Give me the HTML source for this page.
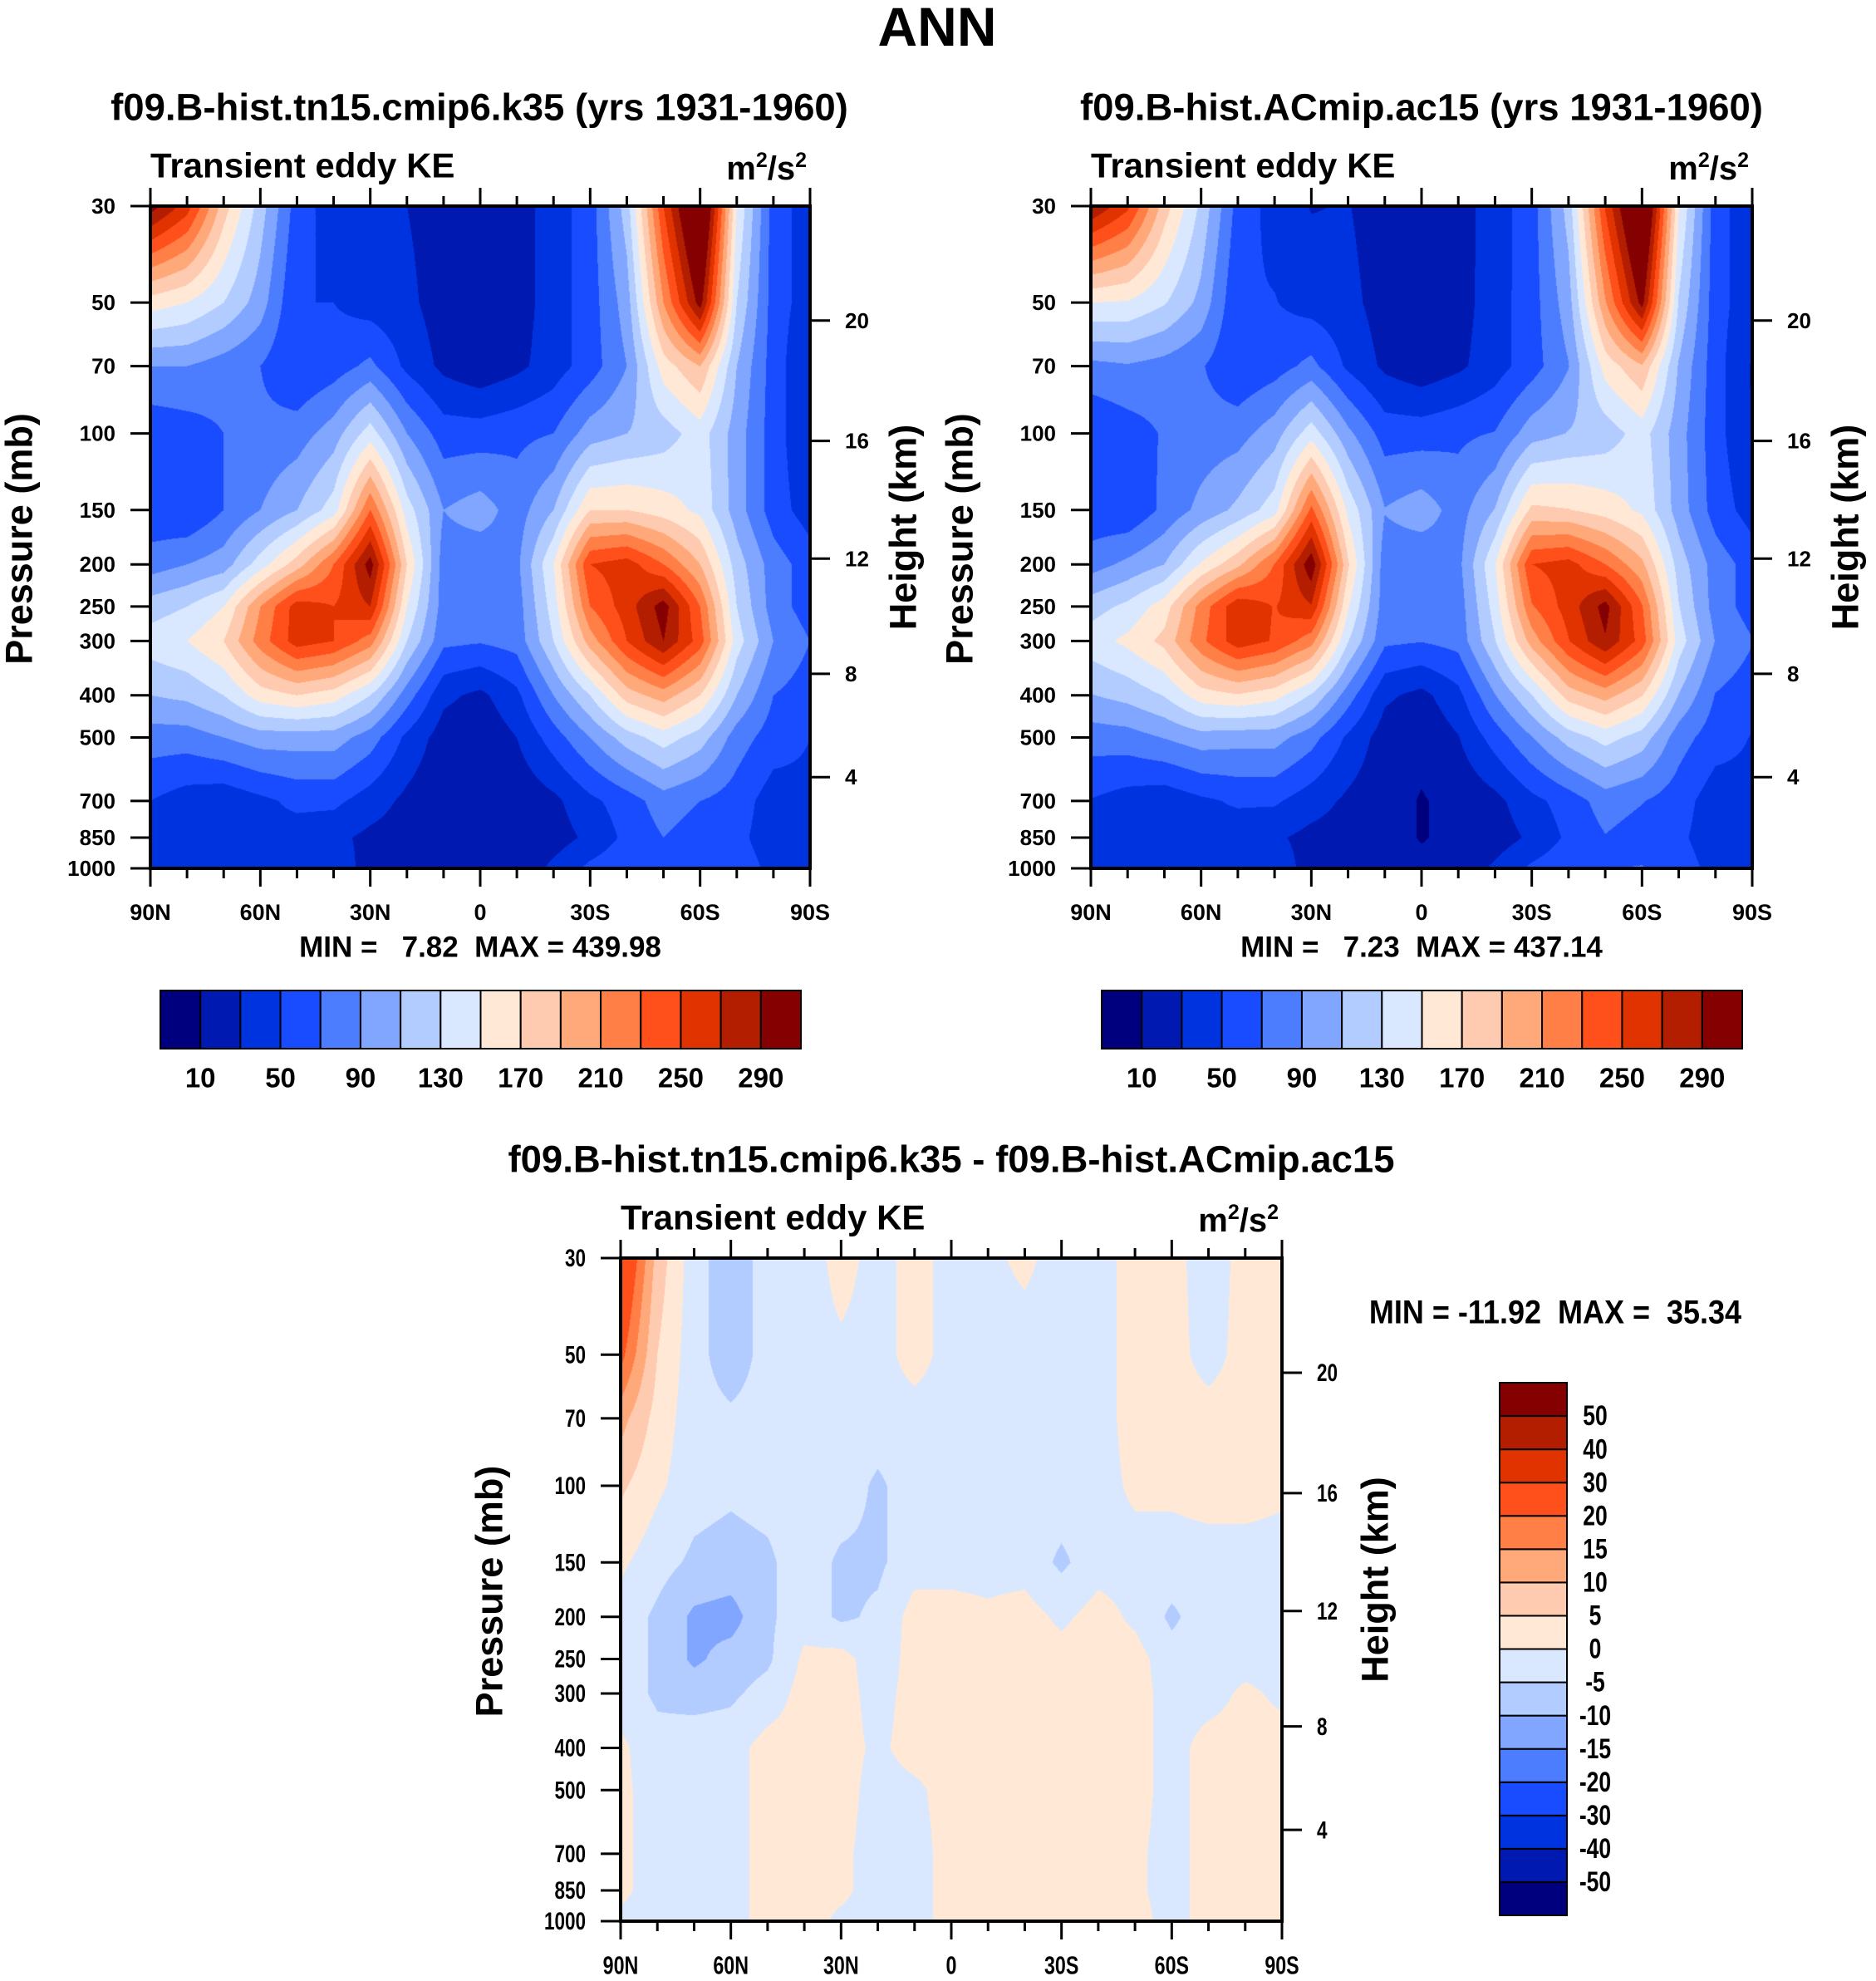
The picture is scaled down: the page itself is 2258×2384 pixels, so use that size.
<!DOCTYPE html>
<html><head><meta charset="utf-8">
<style>
html,body{margin:0;padding:0;background:#fff;}
#wrap{position:relative;width:2258px;height:2384px;overflow:hidden;background:#fff;}
canvas{position:absolute;}
svg{position:absolute;left:0;top:0;}
text{font-family:"Liberation Sans",sans-serif;font-weight:bold;fill:#000;white-space:pre;}
</style></head>
<body>
<div id="wrap">
<canvas id="c1" width="794" height="797" style="left:181px;top:248px"></canvas>
<canvas id="c2" width="796" height="797" style="left:1313px;top:248px"></canvas>
<canvas id="c3" width="796" height="798" style="left:747px;top:1514px"></canvas>
<svg id="svg" width="2258" height="2384" xmlns="http://www.w3.org/2000/svg"></svg>
</div>
<script>
const pressures=[30,50,70,100,150,200,250,300,400,500,700,850,1000];
const latLabels=["90N","60N","30N","0","30S","60S","90S"];
const heightKm=[20,16,12,8,4];
const heightP=[55,104,194,357,617];
const levelsKE=[10,30,50,70,90,110,130,150,170,190,210,230,250,270,290];
const levelsKELabels=["10","50","90","130","170","210","250","290"];
const levelsDiff=[-50,-40,-30,-20,-15,-10,-5,0,5,10,15,20,30,40,50];
const colors=["#00007f","#0019b0","#0033e0","#1a4cff","#4d7dff","#80a6ff","#b3ccff","#d9e8ff","#ffe8d6","#ffcbb0","#ffa97a","#ff7f47","#ff4f1a","#e03300","#b31d00","#850000"];
// rows: pressure levels; cols: 90N..90S every 10 deg
const case1=[
[300,260,180,120,60,40,30,30,20,15,20,40,60,120,250,350,150,60,40],
[160,150,130,100,50,50,40,35,20,15,20,40,60,100,210,300,130,60,40],
[90,90,80,70,50,60,75,45,25,15,25,40,60,90,160,190,110,60,30],
[55,60,70,75,80,100,140,90,60,60,65,70,100,110,120,140,100,60,30],
[55,50,70,90,110,140,230,140,90,100,80,110,170,170,160,145,100,60,40],
[80,90,100,140,180,230,300,170,80,75,85,150,250,260,230,190,120,80,60],
[120,130,150,210,260,250,270,150,80,75,80,140,230,260,300,230,130,80,60],
[140,150,170,220,260,250,220,130,75,72,78,130,200,250,290,240,140,90,70],
[110,115,130,160,170,160,130,80,35,25,45,90,130,180,200,170,110,70,60],
[80,80,90,100,100,100,80,45,20,15,30,60,90,120,140,120,80,60,50],
[50,40,35,45,55,55,40,25,15,10,15,25,45,60,80,70,60,40,45],
[40,35,35,45,40,35,25,20,15,10,15,20,35,55,70,60,55,40,40],
[40,40,35,45,45,45,20,15,15,15,15,35,55,65,70,70,60,45,50]];
const case2=[
[290,255,180,125,62,42,29,31,19,16,21,40,61,118,252,350,152,58,38],
[150,148,132,104,52,51,41,36,21,16,21,41,61,101,208,298,128,58,38],
[84,88,82,72,52,61,76,46,26,16,26,41,61,89,158,188,108,58,28],
[50,60,72,78,82,101,141,95,61,61,66,71,101,111,119,139,99,58,29],
[55,52,75,96,115,141,235,145,91,101,81,111,175,171,161,146,101,61,41],
[81,95,110,152,185,231,305,173,79,74,84,149,250,258,230,195,121,81,61],
[121,135,160,218,265,249,268,152,79,74,79,139,228,259,298,232,131,81,61],
[141,155,176,225,262,248,218,131,74,71,77,129,199,249,288,241,141,89,71],
[109,117,131,161,168,158,128,80,34,24,44,89,129,179,198,171,109,69,59],
[79,81,91,101,98,98,78,46,20,14,29,59,89,119,138,121,79,59,49],
[49,41,36,46,53,53,39,26,16,9,14,24,44,59,79,71,59,39,44],
[39,36,36,46,38,33,24,21,16,9,14,19,34,54,69,61,54,39,39],
[41,40,35,45,43,43,21,16,16,14,14,34,54,64,69,71,59,44,49]];
const diff=[
[30,8,-3,-8,-3,-3,2,-2,2,-2,-1,1,-2,-2,2,2,-3,2,2],
[22,5,-3,-8,-3,-2,-1,-2,2,-2,-2,-2,-2,-2,2,2,-2,2,2],
[12,3,-3,-4,-3,-2,-2,-2,-2,-2,-2,-2,-2,-2,2,2,2,2,2],
[6,1,-3,-4,-3,-2,-2,-6,-2,-2,-2,-2,-2,-2,1,1,2,2,1],
[1,-3,-6,-7,-6,-2,-6,-6,-2,-2,-2,-2,-6,-2,-2,-2,-2,-2,-2],
[-2,-6,-11,-12,-6,-2,-6,-4,2,2,1,2,-1,2,-1,-6,-2,-2,-2],
[-2,-6,-11,-8,-6,1,2,-3,2,2,2,2,2,2,2,-3,-2,-2,-2],
[-2,-6,-7,-6,-3,2,2,-2,2,2,2,2,2,2,2,-2,-2,1,-1],
[1,-3,-2,-2,2,2,2,-1,2,2,2,2,2,2,2,-2,2,2,2],
[1,-2,-2,-2,2,2,2,-2,-1,2,2,2,2,2,2,-2,2,2,2],
[1,-2,-2,-2,2,2,1,-2,-2,2,2,2,2,2,1,-2,2,2,2],
[1,-2,-2,-2,2,2,1,-2,-2,2,2,2,2,2,1,-2,2,2,2],
[-1,-2,-2,-2,2,2,-1,-2,-2,2,2,2,2,2,2,-2,2,2,2]];

const L30=Math.log10(30),L1000=Math.log10(1000);
function yFrac(p){return (Math.log10(p)-L30)/(L1000-L30);}
function colorIdx(v,lv){let i=0;while(i<lv.length&&v>=lv[i])i++;return i;}
const rgb=colors.map(c=>[parseInt(c.substr(1,2),16),parseInt(c.substr(3,2),16),parseInt(c.substr(5,2),16)]);
function fill(id,data,lv){
  const cv=document.getElementById(id),ctx=cv.getContext('2d');
  const w=cv.width,h=cv.height,img=ctx.createImageData(w,h);
  const lp=pressures.map(p=>Math.log10(p));
  for(let py=0;py<h;py++){
    const l=L30+(py+0.5)/h*(L1000-L30);
    let j=0;while(j<lp.length-2&&l>lp[j+1])j++;
    const t=Math.min(1,Math.max(0,(l-lp[j])/(lp[j+1]-lp[j])));
    for(let px=0;px<w;px++){
      const f=(px+0.5)/w*18;let i=Math.min(17,Math.floor(f));const s=f-i;
      const v=(1-t)*((1-s)*data[j][i]+s*data[j][i+1])+t*((1-s)*data[j+1][i]+s*data[j+1][i+1]);
      const c=rgb[colorIdx(v,lv)],k=(py*w+px)*4;
      img.data[k]=c[0];img.data[k+1]=c[1];img.data[k+2]=c[2];img.data[k+3]=255;
    }
  }
  ctx.putImageData(img,0,0);
}
fill('c1',case1,levelsKE);fill('c2',case2,levelsKE);fill('c3',diff,levelsDiff);

const NS="http://www.w3.org/2000/svg",svg=document.getElementById('svg');
function el(tag,attrs,txt){const e=document.createElementNS(NS,tag);for(const k in attrs)e.setAttribute(k,attrs[k]);if(txt!==undefined)e.textContent=txt;svg.appendChild(e);return e;}
function txt(x,y,s,size,anchor,extra){const e=el('text',Object.assign({x:x,y:y,'font-size':size,'text-anchor':anchor||'middle','dominant-baseline':'central'},extra||{}),s);return e;}
function sx(x,k){return `translate(${x},0) scale(${k},1) translate(${-x},0)`;}

let t=txt(1128,32,"ANN",66);



function panel(x0,y0,w,h,title,tx,narrow,key){
  const tfs=narrow?30:26, k=0.75;
  let e=txt(tx,y0-119,title,45.5);
  
  
  e=txt(x0,y0-49,"Transient eddy KE",42,'start');
  
  
  e=el('text',{x:x0+w-4,y:y0-32,'font-size':40,'text-anchor':'end'});
  e.innerHTML='m<tspan dy="-15" font-size="25">2</tspan><tspan dy="15">/s</tspan><tspan dy="-15" font-size="25">2</tspan>';
  
  
  e=el('rect',{x:x0,y:y0,width:w,height:h,fill:'none',stroke:'#000','stroke-width':4});
  
  
  for(let d=0;d<=18;d++){
    const x=x0+d/18*w,maj=d%3===0,len=maj?22:12;
    el('line',{x1:x,y1:y0+h,x2:x,y2:y0+h+len,stroke:'#000','stroke-width':3});
    el('line',{x1:x,y1:y0,x2:x,y2:y0-len,stroke:'#000','stroke-width':3});
  }
  latLabels.forEach((s,i)=>{
    const x=x0+i/6*w;
    const e=txt(x,y0+h+53,s,narrow?31:27,'middle',narrow?{transform:sx(x,k)}:{});
    
    
  });
  pressures.forEach(p=>{
    const y=y0+yFrac(p)*h;
    el('line',{x1:x0-24,y1:y,x2:x0,y2:y,stroke:'#000','stroke-width':3});
    const e=txt(x0-42,y,String(p),tfs,'end',narrow?{transform:sx(x0-42,k)}:{});
    
    
  });
  heightP.forEach((p,i)=>{
    const y=y0+yFrac(p)*h;
    el('line',{x1:x0+w,y1:y,x2:x0+w+24,y2:y,stroke:'#000','stroke-width':3});
    const e=txt(x0+w+42,y,String(heightKm[i]),tfs,'start',narrow?{transform:sx(x0+w+42,k)}:{});
    
    
  });
  const cy=y0+h/2+2, cy2=y0+h/2-12;
  e=txt(x0-158,cy,"Pressure (mb)",45,'middle',{transform:`rotate(-90 ${x0-158} ${cy})`});
  
  
  const hx=x0+w+112;
  e=txt(hx,cy2,"Height (km)",45,'middle',{transform:`rotate(-90 ${hx} ${cy2})`});
  
  
}
panel(181,248,794,797,"f09.B-hist.tn15.cmip6.k35 (yrs 1931-1960)",577,false,'case1');
panel(1313,248,796,797,"f09.B-hist.ACmip.ac15 (yrs 1931-1960)",1711,false,'case2');
panel(747,1514,796,798,"f09.B-hist.tn15.cmip6.k35 - f09.B-hist.ACmip.ac15",1145,true,'diff');

t=txt(578,1140,"MIN =   7.82  MAX = 439.98",35);


t=txt(1711,1140,"MIN =   7.23  MAX = 437.14",35);


t=txt(1872,1580,"MIN = -11.92  MAX =  35.34",40,'middle',{transform:sx(1872,0.9)});



function hbar(x0,y0,w,h,key){
  const bw=w/colors.length;
  colors.forEach((c,i)=>{
    const r=el('rect',{x:x0+i*bw,y:y0,width:bw,height:h,fill:c,stroke:'#000','stroke-width':2});
    
    
  });
  levelsKELabels.forEach((s,i)=>{
    const e=txt(x0+(1+2*i)*bw,y0+h+35,s,33);
    
    
  });
}
hbar(193,1192,771,70,'case1');
hbar(1326,1192,771,70,'case2');

(function(){
  const x0=1805,y0=1664,w=81,h=641,bh=h/colors.length;
  colors.forEach((c,i)=>{
    const r=el('rect',{x:x0,y:y0+(colors.length-1-i)*bh,width:w,height:bh,fill:c,stroke:'#000','stroke-width':2});
    
    
  });
  levelsDiff.forEach((v,i)=>{
    const y=y0+(colors.length-1-i)*bh;
    const e=txt(1920,y,String(v),34,'middle',{transform:sx(1920,0.78)});
    
    
  });
})();
</script>
</body></html>
